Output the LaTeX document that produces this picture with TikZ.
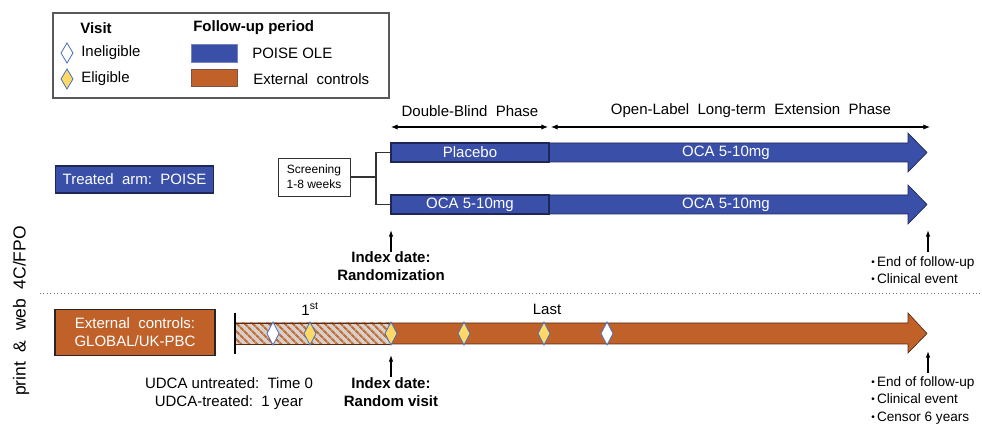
\documentclass[tikz,border=0pt]{standalone}
\usepackage{fontspec}
\setmainfont{Liberation Sans}
\usetikzlibrary{arrows.meta,patterns.meta}
\definecolor{poiseblue}{HTML}{3A4FA8}
\definecolor{navy}{HTML}{1E2755}
\definecolor{extorange}{HTML}{C0612A}
\definecolor{darkorange}{HTML}{5A2A10}
\definecolor{hatchbg}{HTML}{D8D0CA}
\definecolor{hatchfg}{HTML}{C4703E}
\definecolor{dyellow}{HTML}{FFD966}
\definecolor{dblue}{HTML}{4A6FC0}
\tikzset{
  txt/.style={inner sep=0pt,font=\fontsize{11.25}{13.5}\selectfont},
  smalltxt/.style={inner sep=0pt,font=\fontsize{9}{11}\selectfont},
  bultxt/.style={inner sep=0pt,font=\fontsize{10.2}{13.2}\selectfont,align=left,anchor=north west},
  boldtxt/.style={inner sep=0pt,font=\bfseries\fontsize{11.25}{13.5}\selectfont},
  wtxt/.style={txt,text=white},
  upar/.style={-{Latex[length=5pt,width=3.5pt]},line width=0.9pt},
  phasear/.style={{Latex[length=5pt,width=4pt]}-{Latex[length=5pt,width=4pt]},line width=0.8pt},
  bluebar/.style={fill=poiseblue,draw=navy,line width=0.5pt},
  orangebar/.style={fill=extorange,draw=darkorange,line width=0.5pt},
  elig/.style={fill=dyellow,draw=dblue,line width=0.6pt},
  inelig/.style={fill=white,draw=dblue,line width=0.6pt},
}
\newcommand{\bul}{{\fontsize{7.5}{7.5}\selectfont\raisebox{0.2ex}{•}}\,}
\begin{document}
\begin{tikzpicture}[x=0.75pt,y=-0.75pt]
\useasboundingbox (0,0) rectangle (982,427);

% ---------- legend ----------
\draw[draw=black!65,line width=0.9pt] (53,13) rectangle (389,98);
\node[boldtxt,anchor=west] (lvisit) at (80,28) {Visit};
\node[boldtxt,anchor=west] (lfollow) at (193,28) {Follow-up period};
\draw[inelig] (67,43) -- (73,53) -- (67,63) -- (61,53) -- cycle;
\node[txt,anchor=west] (linel) at (81,53) {Ineligible};
\draw[elig] (67,69) -- (73,79) -- (67,89) -- (61,79) -- cycle;
\node[txt,anchor=west] (lelig) at (81,79) {Eligible};
\draw[fill=poiseblue,draw=poiseblue!70!white,line width=0.5pt] (191,44) rectangle (237,62);
\node[txt,anchor=west] (lpoise) at (252,53) {POISE OLE};
\draw[fill=extorange,draw=darkorange!80,line width=0.5pt] (191,69) rectangle (237,86);
\node[txt,anchor=west] (lext) at (253,79) {External\ \ controls};

% ---------- side label ----------
\node[inner sep=0pt,rotate=90,font=\fontsize{13.1}{15}\selectfont] (side) at (21,311) {print\ \ \&\ \ web\ \ 4C/FPO};

% ---------- treated arm ----------
\node[wtxt,fill=poiseblue,draw=navy,line width=0.8pt,minimum width=119pt,minimum height=20.25pt] (treated) at (134.5,179.5) {Treated\ \ arm:\ \ POISE};

\node[smalltxt,draw=black!80,line width=0.7pt,fill=white,align=center,minimum width=54pt,minimum height=28.5pt] (screen) at (314,177) {Screening\\1-8 weeks};

% phase arrows
\coordinate (pa1) at (391,127);
\coordinate (pa2) at (548,127);
\coordinate (pa3) at (551,127);
\coordinate (pa4) at (930,127);
\draw[phasear] (pa1) -- (pa2);
\draw[phasear] (pa3) -- (pa4);
\node[txt] (dbp) at (470,111) {Double-Blind\ \ Phase};
\node[txt] (olp) at (751,111) {Open-Label\ \ Long-term\ \ Extension\ \ Phase};

% blue bars
\draw[bluebar] (391,143) -- (908,143) -- (908,133) -- (927,152.5) -- (908,172) -- (908,162) -- (391,162) -- cycle;
\draw[bluebar] (391,195) -- (908,195) -- (908,185) -- (927,204.5) -- (908,224) -- (908,214) -- (391,214) -- cycle;
\draw[draw=navy,line width=0.9pt] (391,143) rectangle (549,162);
\draw[draw=navy,line width=0.9pt] (391,195) rectangle (549,214);
\node[wtxt] (placebo) at (470,152.5) {Placebo};
\node[wtxt] (oca1) at (470,204.5) {OCA 5-10mg};
\node[wtxt] (oca2) at (726,152.5) {OCA 5-10mg};
\node[wtxt] (oca3) at (726,204.5) {OCA 5-10mg};

% screening connectors
\coordinate (split) at (376,177);
\coordinate (bar1in) at (391,152.5);
\coordinate (bar2in) at (391,204.5);
\draw[line width=0.8pt,black!80] (screen.east) -- (split);
\draw[line width=0.8pt,black!80] (bar1in) -| (split) |- (bar2in);

% index date top
\coordinate (ia1) at (391,252);
\coordinate (ia2) at (391,230);
\draw[upar] (ia1) -- (ia2);
\node[boldtxt,align=center,anchor=north] (idx1) at (391,251) {Index date:\\Randomization};

\coordinate (ea1) at (928,252);
\coordinate (ea2) at (928,230);
\draw[upar] (ea1) -- (ea2);
\node[bultxt] (end1) at (871,256) {\bul End of follow-up\\\bul Clinical event};

% dotted separator
\coordinate (sepL) at (40,293);
\coordinate (sepR) at (982,293);
\draw[black!55,line width=0.6pt,dotted] (sepL) -- (sepR);

% ---------- external controls ----------
\node[wtxt,fill=extorange,draw=black!85,line width=0.8pt,align=center,minimum width=120pt,minimum height=35pt] (ext) at (135,332.5) {External\ \ controls:\\GLOBAL/UK-PBC};

\draw[orangebar] (235,323) -- (908,323) -- (908,313) -- (927,333.5) -- (908,353) -- (908,344) -- (235,344) -- cycle;
\fill[hatchbg] (235,323) rectangle (391,344);
\fill[pattern={Lines[angle=-45,distance=4pt,line width=1.7pt]},pattern color=hatchfg] (235,323) rectangle (391,344);
\draw[darkorange,line width=0.5pt] (235,323) -- (391,323) (235,344) -- (391,344);
\coordinate (tickT) at (235,313);
\coordinate (tickB) at (235,354);
\draw[line width=1pt] (tickT) -- (tickB);

% diamonds
\foreach \xx/\st in {273/inelig,310/elig,391/elig,464/elig,544/elig,607/inelig}{
  \draw[\st] (\xx,322) -- (\xx+6,333.5) -- (\xx,345) -- (\xx-6,333.5) -- cycle;
}
\node[txt] (first) at (310,309) {1\textsuperscript{st}};
\node[txt] (last) at (547,309) {Last};

% bottom arrows
\coordinate (ib1) at (391,377);
\coordinate (ib2) at (391,355);
\draw[upar] (ib1) -- (ib2);
\node[boldtxt,align=center,anchor=north] (idx2) at (391,377) {Index date:\\Random visit};
\node[txt,align=center,anchor=north] (udca) at (229,377) {UDCA untreated:\ \ Time 0\\UDCA-treated:\ \ 1 year};

\coordinate (eb1) at (928,373);
\coordinate (eb2) at (928,351);
\draw[upar] (eb1) -- (eb2);
\node[bultxt] (end2) at (871,376) {\bul End of follow-up\\\bul Clinical event\\\bul Censor 6 years};
\end{tikzpicture}
\end{document}
